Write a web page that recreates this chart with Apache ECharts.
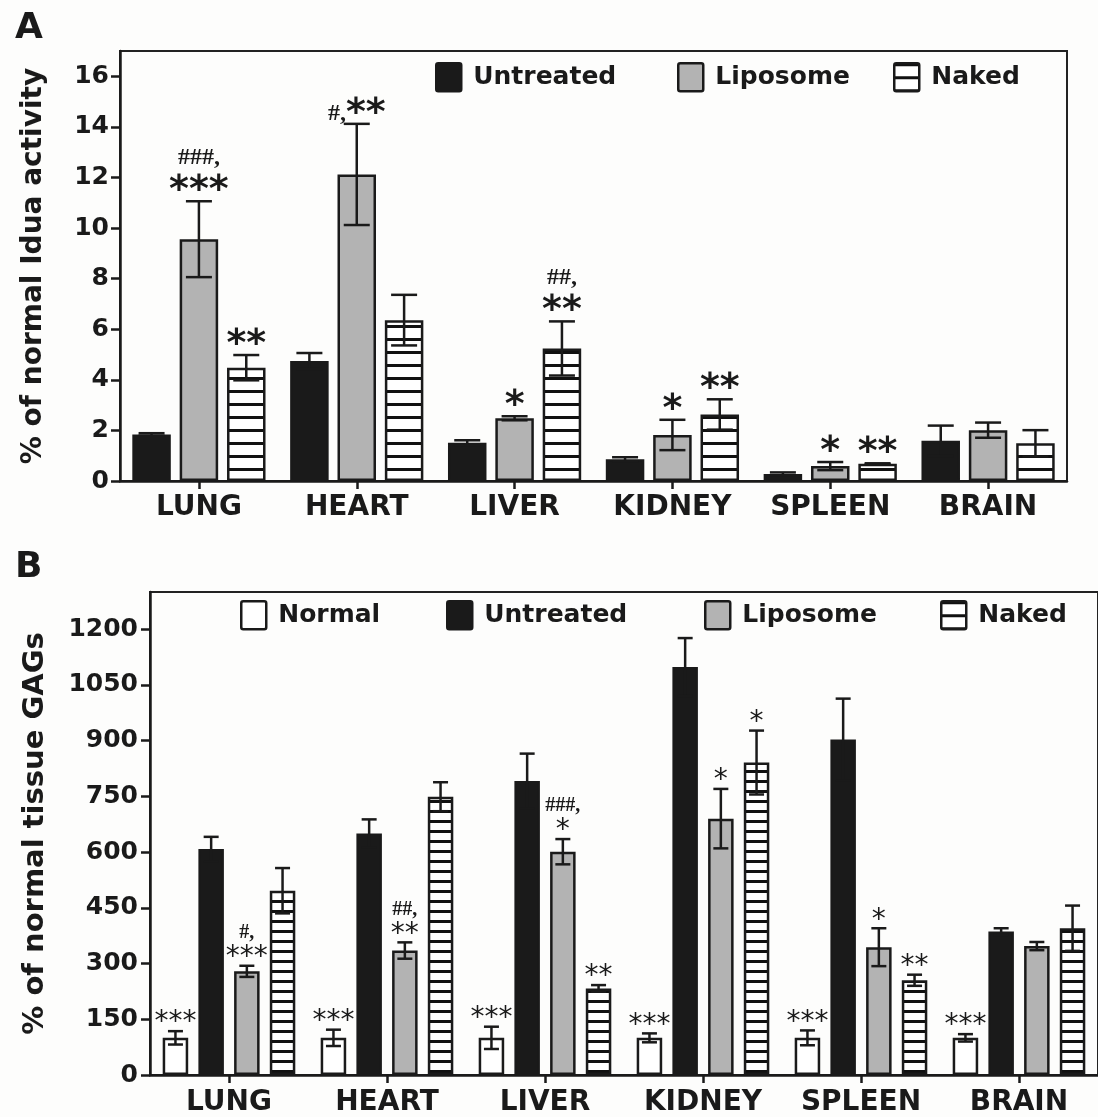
<!DOCTYPE html>
<html><head><meta charset="utf-8">
<script src="https://cdn.jsdelivr.net/npm/echarts@6/dist/echarts.min.js"></script>
<style>html,body{margin:0;padding:0;background:#fdfdfc}#c{width:1098px;height:1117px}</style>
</head><body><div id="c"></div>
<script>
// ---------- DATA ----------
const categories = ['LUNG', 'HEART', 'LIVER', 'KIDNEY', 'SPLEEN', 'BRAIN'];

// Panel A: % of normal Idua activity
const aTicks = [0, 2, 4, 6, 8, 10, 12, 14, 16];
const aUntreated    = [1.84, 4.74, 1.51, 0.86, 0.28, 1.59];
const aUntreatedErr = [0.05, 0.32, 0.10, 0.08, 0.06, 0.60];
const aLiposome     = [9.56, 12.12, 2.48, 1.82, 0.59, 2.01];
const aLiposomeErr  = [1.50, 2.00, 0.08, 0.60, 0.16, 0.30];
const aNaked        = [4.48, 6.36, 5.24, 2.63, 0.68, 1.49];
const aNakedErr     = [0.50, 1.00, 1.07, 0.60, 0.02, 0.52];
const aUntreatedSig = ['', '', '', '', '', ''];
const aLiposomeSig  = ['###,\n***', '#,**', '*', '*', '*', ''];
const aNakedSig     = ['**', '', '##,\n**', '**', '**', ''];

// Panel B: % of normal tissue GAGs
const bTicks = [0, 150, 300, 450, 600, 750, 900, 1050, 1200];
const bNormal       = [100, 100, 100, 100, 100, 100];
const bNormalErr    = [18, 22, 30, 12, 20, 10];
const bUntreated    = [608, 650, 791, 1098, 903, 386];
const bUntreatedErr = [33, 38, 74, 78, 110, 9];
const bLiposome     = [279, 335, 601, 690, 344, 347];
const bLiposomeErr  = [15, 22, 34, 80, 51, 11];
const bNaked        = [496, 749, 233, 841, 255, 395];
const bNakedErr     = [61, 39, 9, 86, 15, 61];
const bNormalSig    = ['***', '***', '***', '***', '***', '***'];
const bUntreatedSig = ['', '', '', '', '', ''];
const bLiposomeSig  = ['#,\n***', '##,\n**', '###,\n*', '*', '*', ''];
const bNakedSig     = ['', '', '**', '*', '**', ''];

// ---------- STYLE ----------
const INK = '#1a1a1a';
const FONT = 'DejaVu Sans';
function stripes(h, lw) {
  const c = document.createElement('canvas');
  c.width = 8; c.height = h;
  const g = c.getContext('2d');
  g.fillStyle = '#ffffff'; g.fillRect(0, 0, 8, h);
  g.fillStyle = '#111111'; g.fillRect(0, 0, 8, lw);
  return c;
}
const stripeA = { image: stripes(13, 3), repeat: 'repeat' };
const stripeB = { image: stripes(10, 3), repeat: 'repeat' };
const legendIcon = 'path://M2,0 L23,0 Q25,0 25,2 L25,26 Q25,28 23,28 L2,28 Q0,28 0,26 L0,2 Q0,0 2,0 Z';

const A = { barW: 38.5, gap: 0.23, cap: 26, n: 3, starSize: 38, starWeight: 'bold', starLH: 38, hashSize: 24, hashLH: 29, dy: 9 };
const B = { barW: 25.5, gap: 0.40, cap: 15, n: 4, starSize: 28, starWeight: 'normal', starLH: 26, hashSize: 20, hashLH: 24, dy: 5 };

function richText(s) {
  return s.split('\n').map(line =>
    line.replace(/[#,]+/g, m => '{h|' + m + '}').replace(/\*+/g, m => '{s|' + m + '}')
  ).join('\n');
}

function barSeries(name, data, gi, fill, cfg) {
  return {
    type: 'bar', name, data, xAxisIndex: gi, yAxisIndex: gi,
    barWidth: cfg.barW, barGap: (cfg.gap * 100) + '%',
    itemStyle: { color: fill, borderColor: INK, borderWidth: 2.5 },
    z: 2
  };
}

function errSeries(name, vals, errs, sigs, gi, pos, cfg) {
  return {
    type: 'custom', name: name, xAxisIndex: gi, yAxisIndex: gi, z: 5, silent: true,
    data: vals.map((v, i) => [i, v, errs[i]]),
    renderItem: function (params, api) {
      const ci = api.value(0), v = api.value(1), e = api.value(2);
      const c = api.coord([ci, v]);
      const pitch = cfg.barW * (1 + cfg.gap);
      const x = c[0] + (pos - (cfg.n - 1) / 2) * pitch;
      const top = api.coord([ci, v + e])[1];
      const bot = api.coord([ci, Math.max(v - e, 0)])[1];
      const st = { stroke: INK, lineWidth: 2.5 };
      const hw = cfg.cap / 2;
      const children = [
        { type: 'line', shape: { x1: x, y1: top, x2: x, y2: bot }, style: st },
        { type: 'line', shape: { x1: x - hw, y1: top, x2: x + hw, y2: top }, style: st },
        { type: 'line', shape: { x1: x - hw, y1: bot, x2: x + hw, y2: bot }, style: st }
      ];
      const sig = sigs[params.dataIndex];
      if (sig) {
        children.push({
          type: 'text', z2: 10,
          style: {
            x: x, y: top + cfg.dy, text: richText(sig),
            align: 'center', verticalAlign: 'bottom',
            rich: {
              s: { fontFamily: FONT, fontSize: cfg.starSize, fontWeight: cfg.starWeight, lineHeight: cfg.starLH, fill: INK, align: 'center' },
              h: { fontFamily: 'Liberation Serif', fontSize: cfg.hashSize, fontWeight: 'bold', lineHeight: cfg.hashLH, fill: INK, align: 'center' }
            }
          }
        });
      }
      return { type: 'group', children };
    }
  };
}

const axisLineStyle = { show: true, lineStyle: { color: INK, width: 2.5 } };
function xAxis(gi, margin) {
  return {
    type: 'category', gridIndex: gi, data: categories,
    axisLine: axisLineStyle,
    axisTick: { show: true, alignWithLabel: true, length: 8, lineStyle: { color: INK, width: 2.5 } },
    axisLabel: { color: INK, fontFamily: FONT, fontWeight: 'bold', fontSize: 28, margin: margin },
    splitLine: { show: false }
  };
}
function yAxis(gi, max, interval, ticks, name, nameSize, nameGap, labelMargin) {
  return {
    type: 'value', gridIndex: gi, min: 0, max: max, interval: interval,
    name: name, nameLocation: 'middle', nameGap: nameGap,
    nameTextStyle: { color: INK, fontFamily: FONT, fontWeight: 'bold', fontSize: nameSize },
    axisLine: axisLineStyle,
    axisTick: { show: true, length: 9, lineStyle: { color: INK, width: 2.5 }, customValues: ticks },
    axisLabel: { color: INK, fontFamily: FONT, fontWeight: 'bold', fontSize: 25, margin: labelMargin, customValues: ticks,
      formatter: v => String(v) },
    splitLine: { show: false }
  };
}
function legend(name, left, top) {
  return {
    data: [{ name: name, icon: legendIcon }], left: left, top: top, itemWidth: 25, itemHeight: 28, padding: 0,
    selectedMode: false,
    itemStyle: { borderColor: INK, borderWidth: 2.5 },
    textStyle: { color: INK, fontFamily: FONT, fontWeight: 'bold', fontSize: 25, padding: [0, 0, 0, 7] }
  };
}

const option = {
  backgroundColor: '#fdfdfc',
  animation: false,
  title: [
    { text: 'A', left: 10, top: 6, textStyle: { color: INK, fontFamily: FONT, fontWeight: 'bold', fontSize: 36 } },
    { text: 'B', left: 10, top: 545, textStyle: { color: INK, fontFamily: FONT, fontWeight: 'bold', fontSize: 36 } }
  ],
  legend: [
    legend('Untreated', 435, 62), legend('Liposome', 677, 62), legend('Naked', 893, 62),
    legend('Normal', 240, 600), legend('Untreated', 446, 600), legend('Liposome', 704, 600), legend('Naked', 940, 600)
  ],
  grid: [
    { left: 120, top: 51, width: 947, height: 430, show: true, borderColor: '#222', borderWidth: 2, backgroundColor: 'transparent' },
    { left: 150, top: 592, width: 954, height: 485, show: true, borderColor: '#222', borderWidth: 2, backgroundColor: 'transparent' }
  ],
  xAxis: [xAxis(0, 13), xAxis(1, 14)],
  yAxis: [
    yAxis(0, 17, 2, aTicks, '% of normal Idua activity', 28, 72, 11),
    yAxis(1, 1300, 150, bTicks, '% of normal tissue GAGs', 29, 100, 12)
  ],
  series: [
    barSeries('Untreated', aUntreated, 0, INK, A),
    barSeries('Liposome', aLiposome, 0, '#b3b3b3', A),
    barSeries('Naked', aNaked, 0, stripeA, A),
    errSeries('Untreated', aUntreated, aUntreatedErr, aUntreatedSig, 0, 0, A),
    errSeries('Liposome', aLiposome, aLiposomeErr, aLiposomeSig, 0, 1, A),
    errSeries('Naked', aNaked, aNakedErr, aNakedSig, 0, 2, A),
    barSeries('Normal', bNormal, 1, '#ffffff', B),
    barSeries('Untreated', bUntreated, 1, INK, B),
    barSeries('Liposome', bLiposome, 1, '#b3b3b3', B),
    barSeries('Naked', bNaked, 1, stripeB, B),
    errSeries('Normal', bNormal, bNormalErr, bNormalSig, 1, 0, B),
    errSeries('Untreated', bUntreated, bUntreatedErr, bUntreatedSig, 1, 1, B),
    errSeries('Liposome', bLiposome, bLiposomeErr, bLiposomeSig, 1, 2, B),
    errSeries('Naked', bNaked, bNakedErr, bNakedSig, 1, 3, B)
  ]
};
const chart = echarts.init(document.getElementById('c'), null, { renderer: 'canvas' });
chart.setOption(option);
</script>
</body></html>
